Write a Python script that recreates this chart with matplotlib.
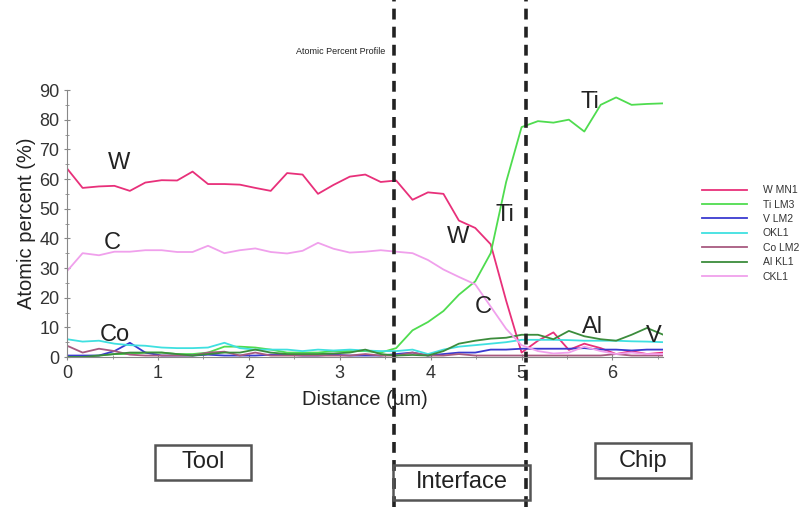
import matplotlib
matplotlib.use('Agg')
import matplotlib.pyplot as plt
from matplotlib.patches import Rectangle

plt.rcParams['font.family'] = ['Liberation Sans', 'DejaVu Sans']

# distance along the line scan (um)
distance = [0.00, 0.17, 0.35, 0.52, 0.69, 0.86, 1.04, 1.21, 1.38, 1.55,
            1.73, 1.90, 2.07, 2.24, 2.42, 2.59, 2.76, 2.93, 3.11, 3.28,
            3.45, 3.62, 3.80, 3.97, 4.14, 4.31, 4.49, 4.66, 4.83, 5.00,
            5.18, 5.35, 5.52, 5.69, 5.87, 6.04, 6.21, 6.38, 6.56]

w_mn1 = [63.5, 57.0, 57.5, 57.7, 56.0, 58.8, 59.6, 59.5, 62.5, 58.3,
         58.3, 58.1, 57.0, 56.0, 62.0, 61.5, 55.0, 58.0, 60.8, 61.5,
         59.0, 59.5, 53.0, 55.5, 55.0, 46.0, 43.5, 38.0, 19.0, 1.5,
         5.5, 8.3, 2.4, 4.5, 3.0, 1.0, 2.0, 1.0, 1.5]
ti_lm3 = [0.0, 0.3, 0.5, 1.0, 1.0, 1.5, 1.5, 1.0, 1.0, 1.5,
          3.5, 3.5, 3.2, 2.5, 1.5, 1.5, 1.5, 2.0, 2.0, 2.0,
          1.5, 3.0, 9.0, 11.8, 15.5, 21.0, 25.5, 35.0, 59.0, 77.5,
          79.5, 79.0, 80.0, 76.0, 85.0, 87.5, 85.0, 85.3, 85.5]
v_lm2 = [0.5, 0.5, 0.5, 2.0, 4.8, 1.5, 0.5, 0.5, 0.5, 0.8,
         0.5, 0.5, 0.5, 0.8, 0.8, 0.5, 0.5, 0.8, 0.5, 0.5,
         0.5, 1.0, 1.5, 0.5, 1.0, 1.5, 1.5, 2.5, 2.5, 2.8,
         2.8, 2.8, 2.8, 3.0, 2.5, 2.5, 2.2, 2.5, 2.5]
o_kl1 = [6.0, 5.2, 5.5, 4.5, 4.0, 3.8, 3.2, 3.0, 3.0, 3.2,
         4.8, 3.0, 2.5, 2.5, 2.5, 2.0, 2.5, 2.2, 2.5, 2.2,
         2.0, 2.0, 2.5, 1.0, 2.5, 3.5, 4.0, 4.5, 5.0, 5.8,
         5.8, 5.8, 5.7, 5.5, 5.5, 5.5, 5.3, 5.2, 5.0]
co_lm2 = [3.8, 1.5, 2.8, 2.0, 0.8, 0.5, 0.5, 0.5, 0.5, 1.5,
          1.8, 0.5, 1.5, 0.5, 0.5, 0.5, 0.5, 0.5, 0.5, 1.0,
          0.5, 0.5, 1.5, 0.5, 0.5, 1.0, 0.5, 0.5, 0.5, 0.5,
          0.5, 0.5, 0.5, 0.5, 0.5, 1.0, 0.5, 0.5, 0.5]
al_kl1 = [0.0, 0.0, 0.5, 1.0, 1.5, 1.5, 1.5, 1.0, 0.5, 1.0,
          1.5, 1.5, 2.5, 1.5, 1.0, 1.0, 1.0, 1.2, 1.5, 2.5,
          1.0, 0.5, 0.7, 0.5, 2.0, 4.5, 5.5, 6.2, 6.5, 7.5,
          7.5, 6.0, 8.8, 7.0, 6.0, 5.5, 7.5, 9.8, 7.5]
c_kl1 = [29.0, 35.0, 34.3, 35.5, 35.5, 36.0, 36.0, 35.4, 35.4, 37.5,
         35.0, 36.0, 36.6, 35.4, 34.9, 35.8, 38.5, 36.5, 35.2, 35.5,
         36.0, 35.5, 35.0, 32.7, 29.5, 27.0, 24.5, 17.0, 9.5, 4.0,
         2.0, 1.2, 1.5, 3.5, 2.0, 1.0, 1.5, 1.0, 1.0]

series = [
    ('W MN1', w_mn1, '#e8307a'),
    ('Ti LM3', ti_lm3, '#4fdc4f'),
    ('V LM2', v_lm2, '#3a3ad0'),
    ('OKL1', o_kl1, '#3fe0e0'),
    ('Co LM2', co_lm2, '#a85a80'),
    ('Al KL1', al_kl1, '#3c8c3c'),
    ('CKL1', c_kl1, '#f0a0ec'),
]

# region boundaries (um)
boundaries = [3.6, 5.05]

fig = plt.figure(figsize=(8.09, 5.14), dpi=100)
ax = fig.add_axes([0.083, 0.3054, 0.737, 0.5195])

for name, vals, col in series:
    ax.plot(distance, vals, color=col, lw=1.3, label=name)

ax.set_xlim(0, 6.56)
ax.set_ylim(0, 90)
ax.set_yticks(range(0, 91, 10))
ax.set_yticks(range(0, 91, 5), minor=True)
ax.set_xticks(range(0, 7))
ax.set_xticks([i * 0.5 for i in range(14)], minor=True)
for s in ['top', 'right']:
    ax.spines[s].set_visible(False)
for s in ['left', 'bottom']:
    ax.spines[s].set_color('#888888')
ax.tick_params(which='both', direction='inout', color='#888888', length=4,
               labelsize=13, labelcolor='#333333')
ax.tick_params(which='minor', length=3)
ax.set_ylabel('Atomic percent (%)', fontsize=14.5, color='#222222', labelpad=2)
ax.set_xlabel('Distance (\u00b5m)', fontsize=14.5, color='#222222', labelpad=6)

# element labels
labels = [('W', 0.57, 65.5), ('C', 0.50, 38.5), ('Co', 0.52, 7.4),
          ('W', 4.30, 40.5), ('Ti', 4.82, 48.0), ('C', 4.58, 17.0),
          ('Ti', 5.75, 86.0), ('Al', 5.78, 10.0), ('V', 6.45, 7.0)]
for t, lx, ly in labels:
    ax.text(lx, ly, t, fontsize=17, color='#222222', ha='center', va='center')

# dashed region boundaries across the whole figure
for b in boundaries:
    ax.axvline(b, ymin=-0.56, ymax=1.34, color='#222222', lw=2.6,
               ls=(0, (3, 2)), clip_on=False)

fig.text(341 / 809, 1 - 52 / 514, 'Atomic Percent Profile', fontsize=6.5,
         ha='center', va='center', color='#222222')

leg = fig.legend(loc='upper left', bbox_to_anchor=(693 / 809, 1 - 176 / 514),
                 frameon=False, fontsize=7.5, handlelength=4.3,
                 handletextpad=1.5, labelspacing=0.42)
for txt in leg.get_texts():
    txt.set_color('#333333')

# region boxes
boxes = [('Tool', 155, 445, 96, 35), ('Interface', 393, 465, 137, 35),
         ('Chip', 595, 443, 96, 35)]
for t, bx, by, bw, bh in boxes:
    fig.patches.append(Rectangle((bx / 809, 1 - (by + bh) / 514), bw / 809, bh / 514,
                                 transform=fig.transFigure, fill=False,
                                 edgecolor='#555555', lw=1.8))
    fig.text((bx + bw / 2) / 809, 1 - (by + bh / 2) / 514, t, fontsize=17,
             ha='center', va='center', color='#222222')

fig.savefig('out.png', dpi=100)
